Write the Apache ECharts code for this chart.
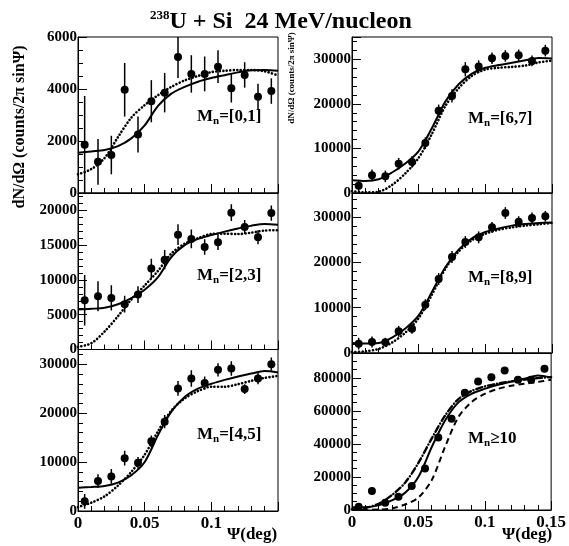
<!DOCTYPE html>
<html>
<head>
<meta charset="utf-8">
<script src="https://cdn.jsdelivr.net/npm/echarts@6/dist/echarts.min.js"></script>
<style>
  html, body { margin: 0; padding: 0; background: #fff; }
  #chart { width: 569px; height: 546px; }
</style>
</head>
<body>
<div id="chart"></div>
<script>
const psi = [0.005, 0.015, 0.025, 0.035, 0.045, 0.055, 0.065, 0.075, 0.085, 0.095, 0.105, 0.115, 0.125, 0.135, 0.145]
const fitPsi = [0, 0.01, 0.02, 0.03, 0.04, 0.05, 0.06, 0.07, 0.08, 0.09, 0.10, 0.11, 0.12, 0.13, 0.14, 0.15]

const m01 = [1860, 1200, 1460, 3970, 2250, 3530, 3860, 5230, 4580, 4580, 4860, 4030, 4540, 3700, 3920]
const m01Err = [1870, 880, 740, 1030, 690, 810, 760, 810, 720, 670, 630, 550, 490, 500, 490]
const m01Solid = [1550, 1600, 1650, 1800, 2100, 2600, 3350, 3820, 4080, 4280, 4420, 4530, 4640, 4720, 4730, 4700]
const m01Dot = [720, 920, 1350, 2150, 2900, 3380, 3760, 4080, 4330, 4500, 4650, 4700, 4730, 4730, 4680, 4520]

const m23 = [7080, 7660, 7420, 6510, 7900, 11630, 12920, 16510, 15890, 14740, 15410, 19670, 17610, 16130, 19620]
const m23Err = [3640, 2150, 1800, 1200, 1200, 1400, 1400, 1500, 1350, 1100, 1100, 1200, 1000, 1000, 1100]
const m23Solid = [5750, 5850, 6000, 6500, 7400, 8600, 10400, 13300, 15000, 15900, 16450, 16950, 17400, 17800, 18050, 17950]
const m23Dot = [380, 900, 2600, 4800, 7200, 9200, 11300, 13800, 15200, 16000, 16600, 16650, 16600, 16800, 17100, 17150]

const m45 = [1970, 6110, 7060, 10790, 9840, 14250, 18260, 25040, 27080, 26130, 28850, 29120, 24910, 27080, 30000]
const m45Err = [1500, 1400, 1500, 1500, 1200, 1200, 1350, 1500, 1700, 1350, 1350, 1500, 1000, 1200, 1350]
const m45Solid = [4750, 4900, 5100, 5800, 7300, 10000, 15500, 20300, 23300, 25000, 26000, 26800, 27500, 28100, 28600, 28300]
const m45Dot = [800, 1700, 3000, 5200, 8000, 11500, 16300, 20500, 23000, 24500, 25400, 25400, 25900, 26600, 27200, 27600]

const m67 = [1640, 3960, 3730, 6570, 6940, 11190, 18430, 21790, 27760, 28360, 30220, 30750, 30900, 29630, 31940]
const m67Err = [1300, 1300, 1300, 1300, 1300, 1300, 1400, 1500, 1600, 1400, 1300, 1300, 1300, 1200, 1300]
const m67Solid = [2850, 2700, 3100, 4600, 6600, 9400, 14600, 20500, 24400, 26800, 28100, 28700, 29200, 29800, 30300, 30200]
const m67Dot = [400, 150, 300, 1800, 4400, 7900, 13300, 19500, 23500, 26300, 27700, 28100, 28300, 28600, 29300, 29700]

const m89 = [2060, 2430, 2350, 4780, 5370, 10660, 16320, 21180, 24490, 25520, 27720, 30880, 28970, 29780, 30150]
const m89Err = [1300, 1200, 1000, 1200, 1100, 1200, 1300, 1300, 1300, 1300, 1200, 1300, 1200, 1200, 1200]
const m89Solid = [2200, 2100, 2200, 3400, 5400, 8300, 13500, 18900, 22800, 25300, 26700, 27500, 28100, 28450, 28700, 28800]
const m89Dot = [200, 350, 900, 2300, 4500, 7700, 12900, 18600, 22400, 24900, 26300, 27200, 27700, 28100, 28400, 28700]

const m10 = [2010, 11460, 4420, 8040, 14470, 25130, 43820, 55280, 70950, 77790, 80400, 84420, 78790, 78790, 85430]
const m10Err = [1200, 1200, 1200, 1200, 1200, 1200, 1200, 1200, 1200, 1200, 1200, 1200, 1200, 1200, 1200]
const m10Solid = [1600, 1700, 2800, 5800, 10500, 20000, 38000, 54000, 65000, 70300, 73300, 75800, 77700, 79400, 81400, 80200]
const m10DashDot = [400, 1200, 3800, 9000, 16500, 28500, 43200, 57000, 67000, 72000, 74800, 76500, 77800, 78900, 79800, 80400]
const m10Dash = [0, 100, 250, 1000, 3300, 7500, 18000, 38000, 56000, 65300, 70300, 73300, 75200, 76400, 77500, 78800]

const xTicks = ['0', '0.05', '0.1', '0.15']
const labels = ['=[0,1]', '=[2,3]', '=[4,5]', '=[6,7]', '=[8,9]', '\u226510']

const serif = '"Liberation Serif", "DejaVu Serif", serif'

// panel layout: left column then right column
const panels = [
  { left: 78, top: 37, h: 156, max: 6000, step: 2000, minor: 4, pts: m01, err: m01Err, lines: [[m01Solid, 'solid'], [m01Dot, 'dot']], lx: 197, ly: 108, bottom: false, col: 0 },
  { left: 78, top: 193, h: 156.5, max: 22500, step: 5000, minor: 5, pts: m23, err: m23Err, lines: [[m23Solid, 'solid'], [m23Dot, 'dot']], lx: 197, ly: 267, bottom: false, col: 0 },
  { left: 78, top: 349.5, h: 161.5, max: 33000, step: 10000, minor: 5, pts: m45, err: m45Err, lines: [[m45Solid, 'solid'], [m45Dot, 'dot']], lx: 197, ly: 426, bottom: true, col: 0 },
  { left: 352, top: 37, h: 156, max: 35000, step: 10000, minor: 5, pts: m67, err: m67Err, lines: [[m67Solid, 'solid'], [m67Dot, 'dot']], lx: 468, ly: 110, bottom: false, col: 1 },
  { left: 352, top: 193, h: 160, max: 35300, step: 10000, minor: 5, pts: m89, err: m89Err, lines: [[m89Solid, 'solid'], [m89Dot, 'dot']], lx: 468, ly: 269, bottom: false, col: 1 },
  { left: 352, top: 353, h: 157, max: 95000, step: 20000, minor: 4, pts: m10, err: m10Err, lines: [[m10Solid, 'solid'], [m10DashDot, 'dashdot'], [m10Dash, 'dash']], lx: 468, ly: 430, bottom: true, col: 1 }
]

const lineStyles = {
  solid: { color: '#000', width: 2, type: 'solid' },
  dot: { color: '#000', width: 2.6, type: [0.1, 3.4], cap: 'round' },
  dashdot: { color: '#000', width: 2.4, type: [6, 3, 0.1, 3], cap: 'round' },
  dash: { color: '#000', width: 2, type: [6, 4] }
}

const chart = echarts.init(document.getElementById('chart'))

const grid = [], xAxis = [], yAxis = [], series = [], graphic = []

panels.forEach((p, i) => {
  grid.push({ left: p.left, top: p.top, width: 200, height: p.h, show: true, borderColor: '#000', borderWidth: 1, backgroundColor: 'transparent' })
  xAxis.push({
    type: 'value', gridIndex: i, min: 0, max: 0.15, interval: 0.05,
    axisLine: { lineStyle: { color: '#000', width: 1 } },
    axisTick: { inside: true, length: 9, lineStyle: { color: '#000' } },
    minorTick: { show: true, splitNumber: 5, length: 5, lineStyle: { color: '#000' } },
    splitLine: { show: false },
    axisLabel: {
      show: p.bottom, color: '#000', fontFamily: serif, fontWeight: 'bold', fontSize: 17, margin: 4,
      showMaxLabel: p.col === 1,
      formatter: v => xTicks[Math.round(v / 0.05)]
    }
  })
  yAxis.push({
    type: 'value', gridIndex: i, min: 0, max: p.max, interval: p.step,
    axisLine: { show: true, lineStyle: { color: '#000', width: 1 } },
    axisTick: { inside: true, length: 9, lineStyle: { color: '#000' } },
    minorTick: { show: true, splitNumber: p.minor, length: 5, lineStyle: { color: '#000' } },
    splitLine: { show: false },
    axisLabel: {
      color: '#000', fontFamily: serif, fontWeight: 'bold', fontSize: 15, margin: 1,
      showMaxLabel: p.max % p.step === 0,
      formatter: v => String(v)
    }
  })

  p.lines.forEach(([vals, kind]) => {
    series.push({
      type: 'line', xAxisIndex: i, yAxisIndex: i, showSymbol: false, symbol: 'none',
      smooth: 0.3, silent: true, z: 2,
      lineStyle: lineStyles[kind],
      data: fitPsi.map((x, k) => [x, vals[k]])
    })
  })

  series.push({
    type: 'custom', xAxisIndex: i, yAxisIndex: i, z: 3, clip: true, silent: true,
    encode: { x: 0, y: 1 },
    data: psi.map((x, k) => [x, p.pts[k], p.err[k]]),
    renderItem: (params, api) => {
      const x = api.value(0), y = api.value(1), e = api.value(2)
      const a = api.coord([x, Math.min(y + e, p.max)])
      const b = api.coord([x, Math.max(y - e, 0)])
      return { type: 'line', shape: { x1: a[0], y1: a[1], x2: b[0], y2: b[1] }, style: { stroke: '#000', lineWidth: 1.5 } }
    }
  })
  series.push({
    type: 'scatter', xAxisIndex: i, yAxisIndex: i, z: 4, silent: true,
    symbol: 'circle', symbolSize: 8, itemStyle: { color: '#000', opacity: 1 },
    data: psi.map((x, k) => [x, p.pts[k]])
  })

  graphic.push({
    type: 'text', left: p.lx, top: p.ly, z: 10,
    style: {
      text: '{a|M}{b|n}{a|' + labels[i] + '}',
      rich: {
        a: { fontFamily: serif, fontWeight: 'bold', fontSize: 17, lineHeight: 20, fill: '#000' },
        b: { fontFamily: serif, fontWeight: 'bold', fontSize: 11, lineHeight: 20, verticalAlign: 'bottom', fill: '#000' }
      }
    }
  })
})

// title, axis titles
graphic.push({
  type: 'text', left: 150, top: 9, z: 10,
  style: {
    text: '{s|238}{t|U + Si  24 MeV/nucleon}',
    rich: {
      s: { fontFamily: serif, fontWeight: 'bold', fontSize: 13, lineHeight: 26, verticalAlign: 'top', fill: '#000' },
      t: { fontFamily: serif, fontWeight: 'bold', fontSize: 24, lineHeight: 26, fill: '#000' }
    }
  }
})
graphic.push({
  type: 'text', x: 20, y: 127, rotation: Math.PI / 2, z: 10,
  style: { text: 'dN/d\u03A9 (counts/2\u03C0 sin\u03A8)', fontFamily: serif, fontWeight: 'bold', fontSize: 16, align: 'center', verticalAlign: 'middle', fill: '#000' }
})
graphic.push({
  type: 'text', x: 292, y: 78, rotation: Math.PI / 2, z: 10,
  style: { text: 'dN/d\u03A9 (counts/2\u03C0 sin\u03A8)', fontFamily: serif, fontWeight: 'bold', fontSize: 9, align: 'center', verticalAlign: 'middle', fill: '#000' }
})
graphic.push({
  type: 'text', left: 227, top: 526, z: 10,
  style: { text: '\u03A8(deg)', fontFamily: serif, fontWeight: 'bold', fontSize: 17, fill: '#000' }
})
graphic.push({
  type: 'text', left: 502, top: 526, z: 10,
  style: { text: '\u03A8(deg)', fontFamily: serif, fontWeight: 'bold', fontSize: 17, fill: '#000' }
})

chart.setOption({
  backgroundColor: '#fff',
  animation: false,
  grid: grid,
  xAxis: xAxis,
  yAxis: yAxis,
  series: series,
  graphic: graphic
})
</script>
</body>
</html>
